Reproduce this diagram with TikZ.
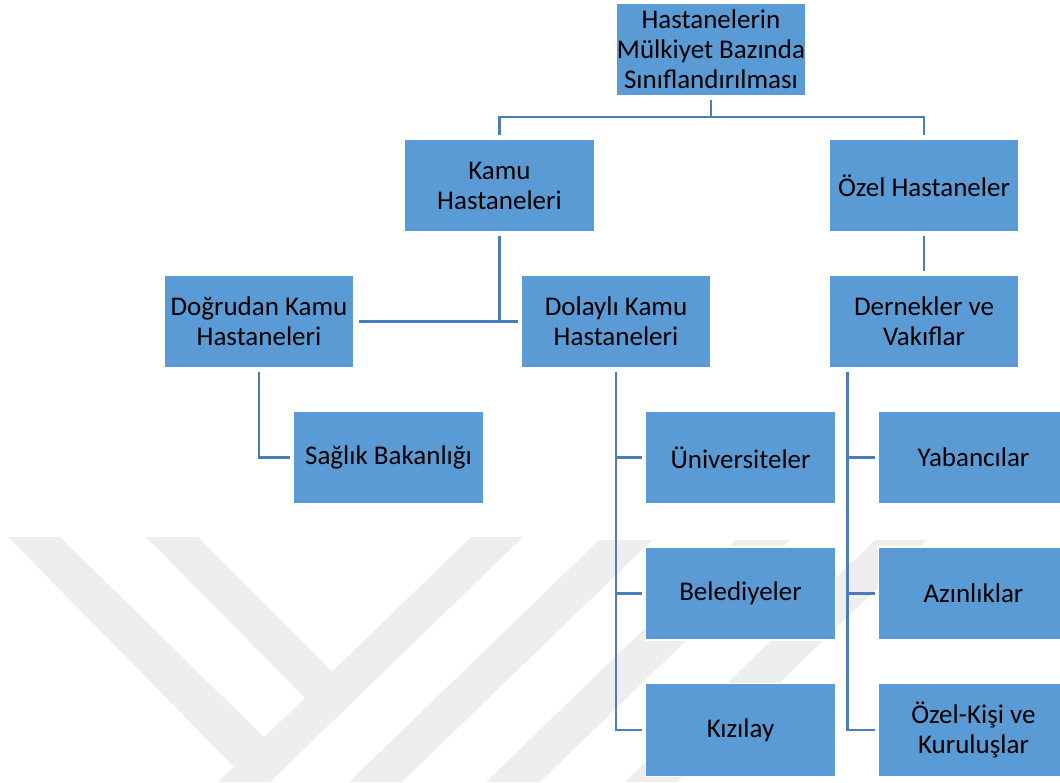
\documentclass[tikz,border=0pt]{standalone}
\usepackage{fontspec}
\setmainfont{Carlito}
\definecolor{boxfill}{HTML}{5B9BD5}
\definecolor{connc}{RGB}{74,126,187}
\definecolor{wm}{HTML}{EEEEEE}
\begin{document}
\begin{tikzpicture}[x=1pt,y=-1pt,
  box/.style={rectangle,fill=boxfill,draw=white,line width=1.2pt,minimum width=190pt,minimum height=93pt,
    inner sep=0pt,align=center,font=\fontsize{27}{30}\selectfont,text=black},
  conn/.style={draw=connc,line width=2.6pt,line join=miter},
  wmark/.style={fill=wm,draw=none}]
\useasboundingbox (0,0) rectangle (1060,782);
\clip (0,0) rectangle (1060,782);
\fill[white] (0,0) rectangle (1060,782);
% watermark
\fill[wmark] (8,537) -- (60,537) -- (275,748) -- (245,778) -- cycle;
\fill[wmark] (146,537) -- (198,537) -- (340,679) -- (313,706) -- cycle;
\fill[wmark] (471,537) -- (523,537) -- (270,782) -- (218,782) -- cycle;
\fill[wmark] (599,540) -- (652,540) -- (402,782) -- (349,782) -- cycle;
\fill[wmark] (736,540) -- (790,540) -- (540,782) -- (486,782) -- cycle;
\fill[wmark] (875,540) -- (927,540) -- (677,782) -- (625,782) -- cycle;
% nodes
\node[box,minimum width=189pt] (top) at (711,49.5) {Hastanelerin\\Mülkiyet Bazında\\Sınıflandırılması};
\node[box] (kamu) at (499.5,185.5) {Kamu\\Hastaneleri};
\node[box] (ozel) at (924,185.5) {Özel Hastaneler};
\node[box] (dogrudan) at (259,321.5) {Doğrudan Kamu\\Hastaneleri};
\node[box] (dolayli) at (616,321.5) {Dolaylı Kamu\\Hastaneleri};
\node[box] (dernek) at (924,321.5) {Dernekler ve\\Vakıflar};
\node[box] (saglik) at (388.5,457.5) {Sağlık Bakanlığı};
\node[box] (univ) at (740.5,457.5) {Üniversiteler};
\node[box] (beled) at (740.5,593.5) {Belediyeler};
\node[box] (kizilay) at (740.5,730) {Kızılay};
\node[box] (yabanci) at (973.5,457.5) {Yabancılar};
\node[box] (azin) at (973.5,593.5) {Azınlıklar};
\node[box] (ozelkisi) at (973.5,730) {Özel-Kişi ve\\Kuruluşlar};
% connectors
\coordinate (j1) at (711,117);
\draw[conn] ([yshift=-3pt]top.south) -- (j1);
\draw[conn] ([yshift=3pt]kamu.north) |- (j1) -| ([yshift=3pt]ozel.north);
\draw[conn] ([yshift=-3pt]ozel.south) -- ([yshift=3pt]dernek.north);
\draw[conn] ([yshift=-3pt]kamu.south) |- ([xshift=-2pt]dolayli.west);
\draw[conn] ([xshift=4pt]dogrudan.east) -- ([xshift=-2pt]dolayli.west);
\draw[conn] ([yshift=-3pt]dogrudan.south) |- ([xshift=-3pt]saglik.west);
\draw[conn] ([yshift=-3pt]dolayli.south) |- ([xshift=-3pt]kizilay.west);
\draw[conn] (dolayli.south |- univ.west) -- ([xshift=-3pt]univ.west);
\draw[conn] (dolayli.south |- beled.west) -- ([xshift=-3pt]beled.west);
\coordinate (dv) at ([xshift=19pt,yshift=-3pt]dernek.south west);
\draw[conn] (dv) |- ([xshift=-3pt]ozelkisi.west);
\draw[conn] (dv |- yabanci.west) -- ([xshift=-3pt]yabanci.west);
\draw[conn] (dv |- azin.west) -- ([xshift=-3pt]azin.west);
\end{tikzpicture}
\end{document}
